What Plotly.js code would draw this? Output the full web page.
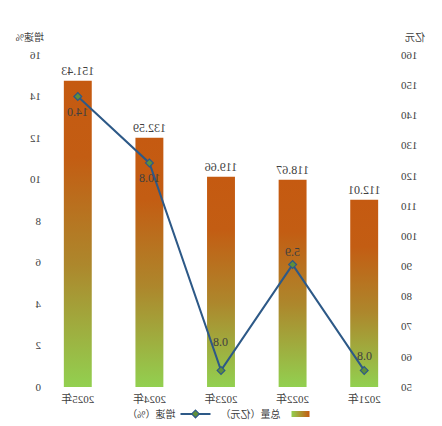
<!DOCTYPE html>
<html>
<head>
<meta charset="utf-8">
<script src="https://cdn.plot.ly/plotly-3.0.1.min.js"></script>
<style>
html,body{margin:0;padding:0;background:#fff;}
#chart{width:442px;height:426px;transform:scaleX(-1);transform-origin:center;}
</style>
</head>
<body>
<div id="chart"></div>
<script>
// Data
const years = ["2021年", "2022年", "2023年", "2024年", "2025年"];
const totals = [112.01, 118.67, 119.66, 132.59, 151.43];
const growth = [0.8, 5.9, 0.8, 10.8, 14.0];
const totalName = "总量（亿元）";
const growthName = "增速（%）";

// label offsets (style, in px)
const growthLabelShift = [14, 13, 28, -15, -15];

const FONT = "'Liberation Serif', 'Noto Sans CJK SC', serif";
const TXT = "#404040";
const LINE = "#2d5987";

const traces = [
  {
    type: "bar",
    name: totalName,
    x: years,
    y: totals,
    yaxis: "y",
    width: 0.39,
    marker: {color: "#c55a11", line: {width: 0}},
    text: totals.map(v => v.toFixed(2)),
    textposition: "outside",
    constraintext: "none",
    cliponaxis: false,
    textfont: {family: FONT, size: 12, color: TXT},
    hoverinfo: "skip"
  },
  {
    type: "scatter",
    mode: "lines+markers",
    name: growthName,
    x: years,
    y: growth,
    yaxis: "y2",
    line: {color: LINE, width: 2},
    marker: {symbol: "diamond", size: 6, color: "#5f8f3a", line: {color: LINE, width: 1.2}},
    cliponaxis: false,
    hoverinfo: "skip"
  }
];

const growthAnn = years.map((yr, i) => ({
  x: yr, y: growth[i], xref: "x", yref: "y2",
  text: growth[i].toFixed(1), showarrow: false,
  yshift: growthLabelShift[i], xanchor: "center", yanchor: "middle",
  font: {family: FONT, size: 12, color: TXT}
}));

const layout = {
  width: 442,
  height: 426,
  margin: {l: 42, r: 42, t: 55, b: 39, autoexpand: false},
  paper_bgcolor: "#fff",
  plot_bgcolor: "#fff",
  font: {family: FONT, size: 11, color: TXT},
  showlegend: true,
  legend: {orientation: "h", x: 0.5, xanchor: "center", y: -0.081, yanchor: "middle",
           bgcolor: "rgba(0,0,0,0)",
           font: {family: FONT, size: 10, color: TXT}, itemwidth: 30, traceorder: "normal"},
  xaxis: {type: "category", showgrid: false, showline: false, zeroline: false,
          ticks: "outside", ticklen: 2, tickcolor: "rgba(0,0,0,0)",
          tickfont: {family: FONT, size: 11, color: TXT}},
  yaxis: {range: [50, 160], dtick: 10, showgrid: false, zeroline: false, showline: false, ticks: "",
          tickfont: {family: FONT, size: 11, color: TXT}},
  yaxis2: {range: [0, 16], dtick: 2, overlaying: "y", side: "right", showgrid: false, zeroline: false,
           showline: false, ticks: "", tickfont: {family: FONT, size: 11, color: TXT}},
  annotations: [
    {text: "亿元", xref: "paper", yref: "paper", x: -0.042, y: 1.053, xanchor: "center", yanchor: "middle",
     showarrow: false, font: {family: FONT, size: 10, color: TXT}},
    {text: "增速%", xref: "paper", yref: "paper", x: 1.033, y: 1.053, xanchor: "center", yanchor: "middle",
     showarrow: false, font: {family: FONT, size: 10, color: TXT}}
  ].concat(growthAnn)
};

function applyGradient(gd) {
  const svg = gd.querySelector("svg.main-svg");
  if (!svg) return;
  const ns = "http://www.w3.org/2000/svg";
  let defs = svg.querySelector("defs");
  if (!defs) { defs = document.createElementNS(ns, "defs"); svg.insertBefore(defs, svg.firstChild); }
  function mk(id, x1, y1, x2, y2, stops) {
    if (svg.querySelector("#" + id)) return;
    const g = document.createElementNS(ns, "linearGradient");
    g.setAttribute("id", id);
    g.setAttribute("x1", x1); g.setAttribute("y1", y1);
    g.setAttribute("x2", x2); g.setAttribute("y2", y2);
    stops.forEach(s => {
      const st = document.createElementNS(ns, "stop");
      st.setAttribute("offset", s[0]); st.setAttribute("stop-color", s[1]);
      g.appendChild(st);
    });
    defs.appendChild(g);
  }
  mk("barGrad", "0.5", "0", "0.5", "1", [["0", "#c55a11"], ["0.25", "#c35d13"], ["0.6", "#ad872c"], ["1", "#92d050"]]);
  mk("legGrad", "0", "0", "1", "0", [["0", "#c55a11"], ["1", "#92d050"]]);
  const h = gd._fullLayout.yaxis._length;
  gd.querySelectorAll(".barlayer .bars path").forEach(p => {
    const d = p.getAttribute("d") || "";
    const m = d.match(/^M([-\d.e]+),([-\d.e]+)V([-\d.e]+)H([-\d.e]+)V([-\d.e]+)Z$/);
    if (m) {
      const y0 = Math.min(parseFloat(m[2]), h);
      p.setAttribute("d", "M" + m[1] + "," + y0 + "V" + m[3] + "H" + m[4] + "V" + y0 + "Z");
    }
    p.style.fill = "url(#barGrad)";
  });
  gd.querySelectorAll(".legend .traces").forEach(tr => {
    if (tr.querySelector(".legendbar") || tr.querySelector(".legendundefined")) {
      tr.querySelectorAll(".legendpoints path").forEach(p => {
        p.setAttribute("d", "M9,3H-9V-3H9Z");
        p.style.fill = "url(#legGrad)";
      });
    }
  });
}

Plotly.newPlot("chart", traces, layout, {displayModeBar: false, staticPlot: true}).then(gd => {
  applyGradient(gd);
});
</script>
</body>
</html>
